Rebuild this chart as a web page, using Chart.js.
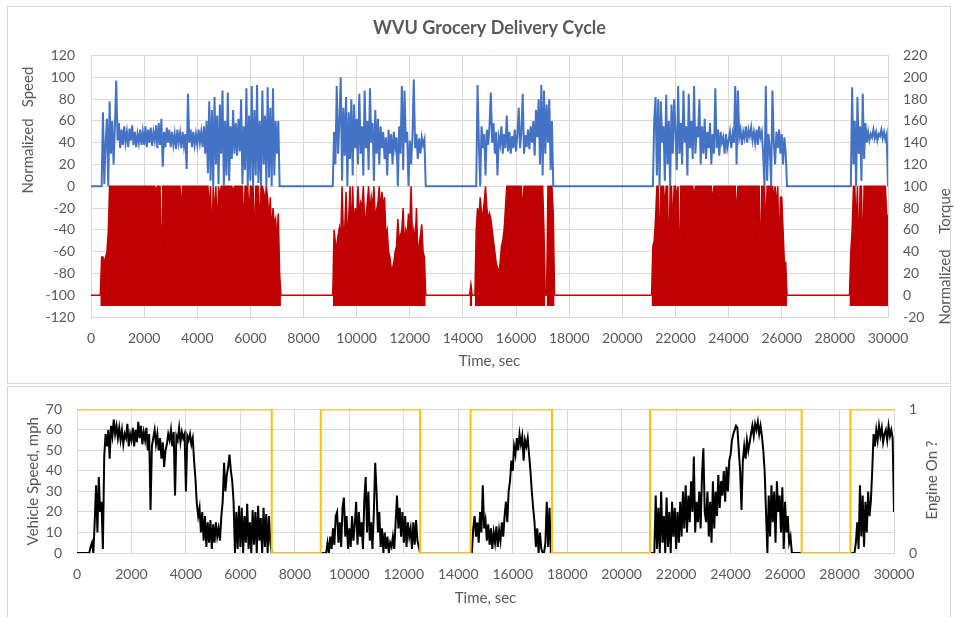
<!DOCTYPE html>
<html>
<head>
<meta charset="utf-8">
<script src="https://cdn.jsdelivr.net/npm/chart.js@4.4.1/dist/chart.umd.min.js"></script>
<style>
  html, body { margin: 0; padding: 0; background: #fff; }
  body { width: 954px; height: 617px; position: relative; overflow: hidden; }
  .frame { position: absolute; border: 1px solid #d9d9d9; box-sizing: border-box; }
  canvas { position: absolute; left: 0; }
</style>
</head>
<body>
<div class="frame" style="left:7px; top:6px; width:944px; height:378px;"></div>
<div class="frame" style="left:7px; top:386px; width:944px; height:240px;"></div>
<canvas id="topChart" width="954" height="383" style="top:0"></canvas>
<canvas id="bottomChart" width="954" height="231" style="top:386px"></canvas>
<script>
// samples every 50 s, 0 .. 30000 s (one row = 1000 s)
const STEP = 50;

// normalized speed, % (left axis, top panel)
const normSpeed = [
  0,0,0,0,0,0,0,0,0,68,2,40,62,0,78,30,60,20,55,97,
  42,58,35,52,38,55,40,50,36,53,42,56,38,50,36,48,40,52,38,50,
  38,55,36,52,40,54,37,50,42,56,35,58,38,62,18,50,36,54,40,52,
  36,50,38,48,34,52,40,49,35,50,37,48,16,85,40,52,36,50,38,48,
  38,52,40,50,36,55,30,60,12,78,5,70,0,82,20,65,2,75,30,88,
  0,60,10,86,5,55,25,70,30,58,28,62,32,80,2,55,15,90,0,65,
  5,92,0,70,10,93,3,60,0,88,20,65,0,91,8,72,0,90,10,60,
  30,60,0,0,0,0,0,0,0,0,0,0,0,0,0,0,0,0,0,0,
  0,0,0,0,0,0,0,0,0,0,0,0,0,0,0,0,0,0,0,0,
  0,0,0,50,20,92,30,60,100,5,72,28,82,0,68,25,80,10,75,35,
  62,20,85,30,55,10,88,35,60,15,90,40,58,5,70,30,62,20,55,35,
  50,25,45,10,52,30,48,20,50,35,45,0,55,30,92,15,88,40,50,0,
  42,20,46,98,35,48,25,44,30,45,38,43,0,0,0,0,0,0,0,0,
  0,0,0,0,0,0,0,0,0,0,0,0,0,0,0,0,0,0,0,0,
  0,0,0,0,0,0,0,0,0,0,0,93,40,0,55,35,48,10,52,38,
  55,86,40,58,30,50,10,45,38,55,30,48,35,65,32,50,30,46,35,52,
  32,48,72,35,50,85,30,47,36,52,34,55,40,60,28,70,45,80,20,93,
  10,88,30,75,40,80,15,60,0,0,0,0,0,0,0,0,0,0,0,0,
  0,0,0,0,0,0,0,0,0,0,0,0,0,0,0,0,0,0,0,0,
  0,0,0,0,0,0,0,0,0,0,0,0,0,0,0,0,0,0,0,0,
  0,0,0,0,0,0,0,0,0,0,0,0,0,0,0,0,0,0,0,0,
  0,0,0,0,60,82,10,80,0,78,40,55,5,84,20,60,0,75,30,80,
  50,15,92,30,58,20,88,40,55,10,85,35,60,25,92,30,55,45,80,20,
  55,30,62,25,50,35,58,20,48,30,90,35,52,28,50,40,45,30,48,35,
  42,50,35,48,40,92,20,88,45,52,38,50,44,55,40,52,46,54,42,50,
  40,52,38,55,45,50,30,0,92,5,48,35,0,88,40,20,50,35,52,30,
  48,20,45,30,0,0,0,0,0,0,0,0,0,0,0,0,0,0,0,0,
  0,0,0,0,0,0,0,0,0,0,0,0,0,0,0,0,0,0,0,0,
  0,0,0,0,0,0,0,0,0,0,0,0,0,91,20,60,0,82,30,55,
  5,85,25,58,40,50,42,48,45,52,44,50,42,48,46,52,44,50,43,48,
  0
];

// normalized torque, % (right axis, top panel) - upper envelope of the trace
const normTorque = [
  0,0,0,0,0,0,0,0,35,35,30,35,40,58,100,100,100,100,100,100,
  100,100,100,100,100,100,100,100,100,100,100,100,100,100,100,100,100,100,100,100,
  100,100,100,100,100,100,100,100,100,96,100,100,100,10,100,100,100,100,100,100,
  100,100,100,100,100,100,100,100,80,100,100,100,100,100,100,100,100,100,100,100,
  100,100,100,100,100,100,100,100,100,80,100,45,100,70,100,55,100,90,100,100,
  100,100,100,100,100,100,100,95,100,100,100,100,100,100,100,60,100,100,100,70,
  100,100,100,45,100,100,100,60,100,100,95,85,100,88,70,90,55,80,65,70,
  50,75,20,0,0,0,0,0,0,0,0,0,0,0,0,0,0,0,0,0,
  0,0,0,0,0,0,0,0,0,0,0,0,0,0,0,0,0,0,0,0,
  0,0,0,60,48,45,55,62,50,100,55,60,95,50,70,100,55,100,60,80,
  70,100,75,85,80,100,70,72,85,100,75,90,80,100,70,78,85,100,75,95,
  80,90,55,60,40,35,25,25,30,40,45,70,50,55,60,80,45,60,55,75,
  60,100,50,60,45,80,40,45,55,65,40,35,0,0,0,0,0,0,0,0,
  0,0,0,0,0,0,0,0,0,0,0,0,0,0,0,0,0,0,0,0,
  0,0,0,0,0,0,10,0,0,0,60,80,70,90,75,75,85,100,80,70,
  75,70,60,50,40,30,25,20,30,45,50,60,80,100,100,100,100,100,100,100,
  100,100,100,100,100,75,100,100,100,100,100,100,100,100,100,100,100,100,100,100,
  100,60,0,0,100,100,100,100,75,0,0,0,0,0,0,0,0,0,0,0,
  0,0,0,0,0,0,0,0,0,0,0,0,0,0,0,0,0,0,0,0,
  0,0,0,0,0,0,0,0,0,0,0,0,0,0,0,0,0,0,0,0,
  0,0,0,0,0,0,0,0,0,0,0,0,0,0,0,0,0,0,0,0,
  0,0,0,45,50,70,100,100,35,100,100,100,80,100,100,25,100,100,60,100,
  100,90,100,5,100,100,100,100,100,100,100,100,100,100,90,100,100,100,100,100,
  100,100,100,100,100,100,100,100,85,100,100,100,100,100,100,100,100,100,100,100,
  100,100,100,100,100,100,70,100,100,100,100,100,100,100,100,100,100,100,100,100,
  100,100,100,100,20,100,100,100,60,100,100,100,100,100,90,100,80,100,40,90,
  90,60,30,30,0,0,0,0,0,0,0,0,0,0,0,0,0,0,0,0,
  0,0,0,0,0,0,0,0,0,0,0,0,0,0,0,0,0,0,0,0,
  0,0,0,0,0,0,0,0,0,0,0,0,40,60,100,100,60,100,30,100,
  100,30,100,100,100,100,100,100,100,100,100,100,100,100,100,100,100,100,100,75,
  70
];

// vehicle speed, mph (bottom panel)
const vehSpeed = [
  0,0,0,0,0,0,0,0,0,0,3,5,0,15,33,10,37,20,25,2,
  47,58,52,60,46,62,57,65,58,62,56,61,55,60,53,58,56,63,52,58,
  55,61,52,60,54,64,56,62,53,59,55,61,50,58,21,52,56,60,53,58,
  50,56,46,54,42,50,53,58,55,60,52,59,28,57,55,61,54,59,56,58,
  30,57,55,58,53,56,45,36,24,18,22,10,20,6,18,3,15,5,16,2,
  14,5,15,8,12,6,18,25,44,30,38,42,48,40,35,25,0,20,2,23,
  3,22,0,18,5,24,2,15,0,21,4,20,0,23,6,17,0,22,3,19,
  0,18,5,0,0,0,0,0,0,0,0,0,0,0,0,0,0,0,0,0,
  0,0,0,0,0,0,0,0,0,0,0,0,0,0,0,0,0,0,0,0,
  0,0,0,0,5,0,8,2,12,4,18,20,5,15,3,22,27,8,18,2,
  12,3,18,6,14,25,4,20,8,15,2,26,37,10,30,6,15,2,20,44,
  30,10,20,3,12,0,10,2,8,0,5,3,8,2,15,28,12,22,8,20,
  5,18,3,15,8,12,2,15,4,16,6,3,0,0,0,0,0,0,0,0,
  0,0,0,0,0,0,0,0,0,0,0,0,0,0,0,0,0,0,0,0,
  0,0,0,0,0,0,0,0,0,0,0,12,18,8,15,5,20,10,33,12,
  16,6,14,4,12,2,10,5,13,3,11,6,15,8,18,25,15,30,35,45,
  40,52,48,56,50,58,53,57,45,55,52,56,48,40,30,22,15,3,12,0,
  10,2,0,0,5,25,3,22,0,0,0,0,0,0,0,0,0,0,0,0,
  0,0,0,0,0,0,0,0,0,0,0,0,0,0,0,0,0,0,0,0,
  0,0,0,0,0,0,0,0,0,0,0,0,0,0,0,0,0,0,0,0,
  0,0,0,0,0,0,0,0,0,0,0,0,0,0,0,0,0,0,0,0,
  0,0,0,0,0,28,2,22,0,30,5,18,0,27,3,20,0,25,8,22,
  2,20,5,25,8,30,12,33,10,28,15,35,20,47,10,25,15,30,12,38,
  51,20,15,30,8,25,5,35,12,30,18,38,22,35,28,40,25,42,30,45,
  48,55,58,60,62,61,50,40,21,45,52,46,55,50,54,58,62,57,63,60,
  64,58,62,57,50,40,20,0,28,8,33,15,30,5,35,20,28,10,32,2,
  25,10,18,5,8,0,0,0,0,0,0,0,0,0,0,0,0,0,0,0,
  0,0,0,0,0,0,0,0,0,0,0,0,0,0,0,0,0,0,0,0,
  0,0,0,0,0,0,0,0,0,0,0,0,5,15,2,33,8,28,3,25,
  10,30,18,25,40,58,52,60,55,62,57,61,54,58,60,55,62,57,60,56,
  20
];

// engine on/off switching points
const engineTimes = [0, 7150, 7150, 8950, 8950, 12600, 12600, 14450, 14450, 17440, 17440, 21040, 21040, 26610, 26610, 28400, 28400, 30000];
const engineOn    = [1, 1, 0, 0, 1, 1, 0, 0, 1, 1, 0, 0, 1, 1, 0, 0, 1, 1];

const pts = (ys) => ys.map((y, i) => ({ x: i * STEP, y: y }));
const enginePts = engineTimes.map((t, i) => ({ x: t, y: engineOn[i] }));

const FONT = 'Lato, "Liberation Sans", sans-serif';
Chart.defaults.font.family = FONT;
Chart.defaults.font.size = 14;
Chart.defaults.color = '#595959';

const GRID = '#d9d9d9';
const RED = '#c00000';

// axis titles written bottom-to-top at fixed spots, like the Excel original
const sideTitle = {
    id: 'sideTitle',
    afterDraw(chart, args, opts) {
        const ctx = chart.ctx;
        ctx.save();
        ctx.font = '15px ' + FONT;
        ctx.fillStyle = '#595959';
        ctx.textAlign = 'center';
        ctx.textBaseline = 'middle';
        (opts.parts || []).forEach(p => {
            ctx.save();
            ctx.translate(p.x, p.y);
            ctx.rotate(-Math.PI / 2);
            ctx.fillText(p.text, 0, 0);
            ctx.restore();
        });
        ctx.restore();
    }
};

const timeAxis = (height, tickPad, titlePad) => ({
    type: 'linear',
    min: 0,
    max: 30000,
    ticks: { stepSize: 2000, autoSkip: false, maxRotation: 0, padding: tickPad, callback: v => String(v) },
    grid: { color: GRID, drawTicks: false },
    border: { color: GRID },
    title: { display: true, text: 'Time, sec', font: { size: 15 }, padding: { top: 0, bottom: titlePad } },
    afterFit: s => { s.height = height; }
});

new Chart(document.getElementById('topChart'), {
    type: 'line',
    data: {
        datasets: [{
            label: 'Normalized Speed',
            data: pts(normSpeed),
            yAxisID: 'y',
            borderColor: '#4472c4',
            borderWidth: 2,
            pointRadius: 0,
            fill: false
        }, {
            label: 'Normalized Torque',
            data: pts(normTorque),
            yAxisID: 'y2',
            borderColor: RED,
            backgroundColor: RED,
            borderWidth: 1.5,
            pointRadius: 0,
            fill: { value: -10 },
            // only shade while the engine is running (torque trace off zero)
            segment: {
                backgroundColor: c => (c.p0.parsed.y === 0 && c.p1.parsed.y === 0) ? 'rgba(0,0,0,0)' : RED
            }
        }]
    },
    options: {
        responsive: false,
        animation: false,
        layout: { padding: 0 },
        plugins: {
            legend: { display: false },
            tooltip: { enabled: false },
            title: {
                display: true,
                text: 'WVU Grocery Delivery Cycle',
                fullSize: false,
                color: '#595959',
                font: { size: 18, weight: 'bold' },
                padding: { top: 17, bottom: 17 }
            },
            sideTitle: { parts: [
                { text: 'Normalized', x: 28, y: 156 },
                { text: 'Speed', x: 28, y: 87 },
                { text: 'Normalized', x: 945, y: 287 },
                { text: 'Torque', x: 945, y: 211 }
            ] }
        },
        scales: {
            x: timeAxis(66, 13, 13),
            y: {
                position: 'left',
                min: -120,
                max: 120,
                ticks: { stepSize: 20, padding: 16 },
                grid: { color: GRID, drawTicks: false },
                border: { display: false },
                afterFit: s => { s.width = 91; }
            },
            y2: {
                position: 'right',
                min: -20,
                max: 220,
                ticks: { stepSize: 20, padding: 15 },
                grid: { display: false, drawTicks: false },
                border: { color: GRID },
                afterFit: s => { s.width = 66; }
            }
        }
    },
    plugins: [sideTitle]
});

new Chart(document.getElementById('bottomChart'), {
    type: 'line',
    data: {
        datasets: [{
            label: 'Engine On ?',
            data: enginePts,
            yAxisID: 'y2',
            borderColor: '#ffc000',
            borderWidth: 2,
            pointRadius: 0,
            fill: false
        }, {
            label: 'Vehicle Speed, mph',
            data: pts(vehSpeed),
            yAxisID: 'y',
            borderColor: '#000000',
            borderWidth: 2,
            pointRadius: 0,
            fill: false
        }]
    },
    options: {
        responsive: false,
        animation: false,
        layout: { padding: { top: 15 } },
        plugins: {
            legend: { display: false },
            tooltip: { enabled: false },
            sideTitle: { parts: [{ text: 'Engine On ?', x: 932, y: 94 }] }
        },
        scales: {
            x: timeAxis(64, 13, 10),
            y: {
                position: 'left',
                min: 0,
                max: 70,
                ticks: { stepSize: 10, padding: 15 },
                grid: { color: GRID, drawTicks: false },
                border: { display: false },
                title: { display: true, text: 'Vehicle Speed, mph', font: { size: 15 }, padding: { top: 24, bottom: 0 } },
                afterFit: s => { s.width = 77; }
            },
            y2: {
                position: 'right',
                min: 0,
                max: 1,
                ticks: { stepSize: 1, padding: 15 },
                grid: { display: false, drawTicks: false },
                border: { color: GRID },
                afterFit: s => { s.width = 60; }
            }
        }
    },
    plugins: [sideTitle]
});
</script>
</body>
</html>
